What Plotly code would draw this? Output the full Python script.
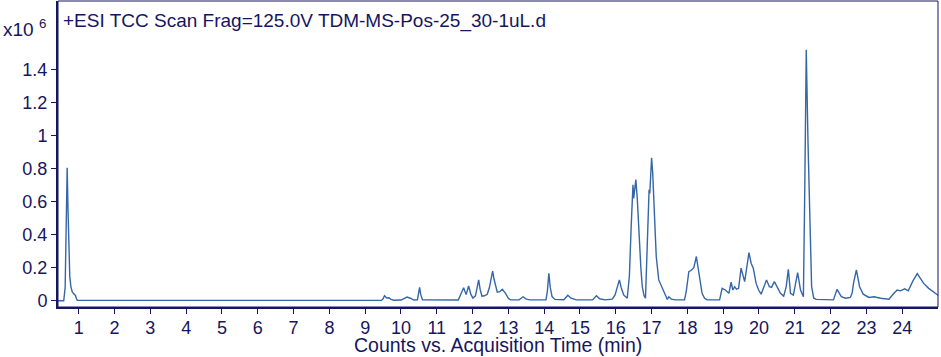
import plotly.graph_objects as go

# Acquisition time (min)
time_min = [
    0.42, 0.58, 0.62, 0.65, 0.676, 0.70, 0.73, 0.749, 0.78, 0.816, 0.86, 0.908, 0.935, 0.96,
    3.0, 6.0, 9.45, 9.50, 9.54, 9.60, 9.66, 9.72, 9.80, 10.0, 10.10, 10.17, 10.26, 10.36,
    10.46, 10.49, 10.52, 10.55, 10.60, 11.60, 11.68, 11.75, 11.82, 11.89, 11.95, 12.01,
    12.08, 12.13, 12.17, 12.21, 12.26, 12.33, 12.41, 12.47, 12.52, 12.56, 12.60, 12.65,
    12.69, 12.76, 12.83, 12.92, 13.0, 13.06, 13.30, 13.41, 13.50, 13.60, 14.05, 14.09,
    14.13, 14.17, 14.22, 14.30, 14.55, 14.66, 14.75, 14.90, 15.35, 15.46, 15.55, 15.70,
    15.90, 15.98, 16.05, 16.10, 16.15, 16.22, 16.32, 16.38, 16.43, 16.48, 16.50, 16.53,
    16.56, 16.60, 16.64, 16.70, 16.74, 16.79, 16.83, 16.86, 16.89, 16.91, 16.93, 16.95,
    16.98, 17.00, 17.03, 17.06, 17.10, 17.13, 17.20, 17.30, 17.36, 17.40, 17.44, 17.48,
    17.55, 17.67, 17.92, 17.97, 18.01, 18.04, 18.10, 18.18, 18.25, 18.32, 18.37, 18.41,
    18.48, 18.55, 18.90, 18.97, 19.06, 19.16, 19.22, 19.27, 19.32, 19.37, 19.43, 19.50,
    19.60, 19.66, 19.72, 19.78, 19.84, 19.92, 19.99, 20.06, 20.13, 20.21, 20.29, 20.35,
    20.43, 20.53, 20.60, 20.69, 20.76, 20.82, 20.88, 20.96, 21.02, 21.08, 21.16, 21.22,
    21.24, 21.28, 21.32, 21.37, 21.42, 21.47, 21.53, 21.60, 22.08, 22.18, 22.30, 22.42,
    22.55, 22.60, 22.64, 22.72, 22.81, 22.91, 23.07, 23.21, 23.40, 23.63, 23.77, 23.86,
    23.95, 24.07, 24.17, 24.30, 24.42, 24.51, 24.60, 24.74, 24.93, 25.02,
]

# Counts (x10^6)
counts_e6 = [
    0.0, 0.0, 0.08, 0.55, 0.805, 0.55, 0.25, 0.146, 0.085, 0.055, 0.042, 0.032, 0.012, 0.003,
    0.002, 0.002, 0.002, 0.012, 0.030, 0.017, 0.018, 0.008, 0.003, 0.004, 0.015, 0.022, 0.015, 0.004,
    0.006, 0.04, 0.081, 0.04, 0.006, 0.004, 0.04, 0.079, 0.037, 0.089, 0.04, 0.016,
    0.03, 0.09, 0.126, 0.07, 0.027, 0.03, 0.039, 0.08, 0.15, 0.18, 0.13, 0.075,
    0.052, 0.055, 0.069, 0.045, 0.015, 0.005, 0.005, 0.024, 0.01, 0.005, 0.005, 0.06,
    0.166, 0.08, 0.025, 0.008, 0.006, 0.033, 0.015, 0.005, 0.005, 0.030, 0.012, 0.005,
    0.01, 0.035, 0.09, 0.126, 0.08, 0.035, 0.015, 0.15, 0.45, 0.703, 0.62, 0.70,
    0.734, 0.62, 0.43, 0.2, 0.085, 0.03, 0.015, 0.2, 0.5, 0.632, 0.673, 0.65,
    0.82, 0.866, 0.78, 0.632, 0.42, 0.268, 0.126, 0.075, 0.05, 0.02, 0.008, 0.024,
    0.01, 0.005, 0.005, 0.06, 0.15, 0.176, 0.183, 0.20, 0.268, 0.167, 0.09, 0.045,
    0.015, 0.005, 0.005, 0.075, 0.065, 0.045, 0.112, 0.065, 0.085, 0.07, 0.075, 0.197,
    0.116, 0.2, 0.292, 0.227, 0.197, 0.105, 0.065, 0.04, 0.075, 0.126, 0.085, 0.081,
    0.116, 0.07, 0.045, 0.028, 0.085, 0.19, 0.045, 0.034, 0.1, 0.17, 0.065, 0.024,
    0.024, 0.7, 1.52, 0.95, 0.43, 0.085, 0.015, 0.008, 0.005, 0.069, 0.025, 0.015,
    0.02, 0.045, 0.105, 0.187, 0.085, 0.04, 0.02, 0.024, 0.015, 0.009, 0.045, 0.065,
    0.06, 0.072, 0.06, 0.12, 0.164, 0.13, 0.105, 0.075, 0.045, 0.03,
]

x_ticks = list(range(1, 25))
y_ticks = [0, 0.2, 0.4, 0.6, 0.8, 1, 1.2, 1.4]
y_tick_text = ["0", "0.2", "0.4", "0.6", "0.8", "1", "1.2", "1.4"]

title_text = "+ESI TCC Scan Frag=125.0V TDM-MS-Pos-25_30-1uL.d"
x_title = "Counts vs. Acquisition Time (min)"
scale_text = "x10 <sup>6</sup>"

NAVY = "#16165e"
LINE = "#3566a8"
FONT = "Liberation Sans, Arial, sans-serif"

L, R, T, B = 58, 3, 1, 50
PW, PH = 941 - L - R, 357 - T - B

fig = go.Figure()
fig.add_trace(go.Scatter(x=time_min, y=counts_e6, mode="lines",
                         line=dict(color=LINE, width=1.4), hoverinfo="skip"))

fig.update_layout(
    width=941, height=357,
    margin=dict(l=L, r=R, t=T, b=B, autoexpand=False),
    paper_bgcolor="white", plot_bgcolor="white",
    showlegend=False,
    font=dict(family=FONT, size=18, color=NAVY),
)
fig.update_xaxes(
    range=[0.42, 25.0], tickvals=x_ticks, ticks="outside", ticklen=5, tickwidth=1,
    tickcolor=NAVY, showline=True, linecolor=NAVY, linewidth=2, showgrid=False,
    zeroline=False, automargin=False, ticklabelstandoff=-2,
    tickfont=dict(size=18, color=NAVY),
)
fig.update_yaxes(
    range=[-0.038, 1.816], tickvals=y_ticks, ticktext=y_tick_text, ticks="outside",
    ticklen=5, tickwidth=1, tickcolor=NAVY, showline=True, linecolor=NAVY, linewidth=2,
    showgrid=False, zeroline=False, automargin=False, tickfont=dict(size=18, color=NAVY),
)
fig.add_shape(type="rect", xref="paper", yref="paper", x0=0, x1=1, y0=0, y1=1,
              line=dict(color=NAVY, width=1))


def px_x(px):
    return (px - L) / PW


def px_y(py):
    return (357 - B - py) / PH


fig.add_annotation(text=title_text, xref="paper", yref="paper", x=px_x(61), y=px_y(21),
                   xanchor="left", yanchor="middle", showarrow=False,
                   font=dict(size=19, color=NAVY))
fig.add_annotation(text=scale_text, xref="paper", yref="paper", x=px_x(1), y=px_y(28),
                   xanchor="left", yanchor="middle", showarrow=False,
                   font=dict(size=19, color=NAVY))
fig.add_annotation(text=x_title, xref="paper", yref="paper", x=0.5, y=px_y(345),
                   xanchor="center", yanchor="middle", showarrow=False,
                   font=dict(size=19.5, color=NAVY))

fig.write_html("out.html", config={"displayModeBar": False},
               post_script="document.body.style.margin='0';document.body.style.overflow='hidden';")
